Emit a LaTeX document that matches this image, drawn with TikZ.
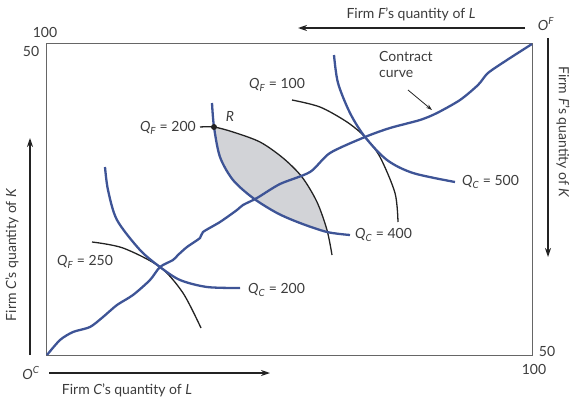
\documentclass[tikz,border=0pt]{standalone}
\usepackage{fontspec}
\setmainfont{Lato}
\usetikzlibrary{arrows.meta}
\definecolor{isoblue}{RGB}{62,84,150}
\definecolor{lensgray}{RGB}{210,211,215}
\definecolor{txtgray}{RGB}{60,60,60}
\definecolor{linegray}{RGB}{35,35,35}
\newcommand\qfirmF{{\itshape Q}\textsubscript{\itshape F}}
\newcommand\qfirmC{{\itshape Q}\textsubscript{\itshape C}}
\tikzset{
  lbl/.style={text=txtgray,font=\fontsize{14}{16}\selectfont,inner sep=1pt},
  bluecurve/.style={isoblue,line width=2.3pt},
  blackcurve/.style={linegray,line width=1.3pt},
  axisarrow/.style={linegray,line width=1.2pt,-{Stealth[length=9pt,width=6pt]}},
  boxline/.style={draw=black!60,line width=1pt}
}
\begin{document}
\begin{tikzpicture}[x=1pt,y=-1pt]
\useasboundingbox (0,0) rectangle (571,399);
% lens shading
\begin{scope}
  \clip plot[smooth] coordinates {(212,103) (214,127) (220,157) (233,180) (253,198) (277,213) (300,223) (327,232) (350,235)} -- (600,235) -- (600,0) -- (212,0) -- cycle;
  \fill[lensgray] plot[smooth] coordinates {(200,127) (214,127) (233,132) (260,142) (283,158) (302,177) (317,202) (327,230) (332,255)} -- (332,400) -- (0,400) -- (0,127) -- cycle;
\end{scope}
% box
\draw[boxline] (46,43.5) rectangle (532,355.5);
% black isoquants (firm F)
\draw[blackcurve] plot[smooth] coordinates {(200,127) (214,127) (233,132) (260,142) (283,158) (302,177) (317,202) (327,230) (332,255)};
\draw[blackcurve] plot[smooth] coordinates {(292,100) (320,107) (347,122) (365,137) (380,157) (395,193) (398,222)};
\draw[blackcurve] plot[smooth] coordinates {(92,242) (123,248) (160,267) (183,293) (201,328)};
% blue isoquants (firm C)
\draw[bluecurve] plot[smooth] coordinates {(212,103) (214,127) (220,157) (233,180) (253,198) (277,213) (300,223) (327,232) (350,235)};
\draw[bluecurve] plot[smooth] coordinates {(105,167) (108,190) (117,220) (140,250) (160,267) (180,280) (207,287) (240,288)};
\draw[bluecurve] plot[smooth] coordinates {(334,55) (338,83) (350,113) (365,137) (387,160) (413,173) (455,182)};
% contract curve
\draw[bluecurve] plot[smooth,tension=0.45] coordinates {(47,355) (60,340) (73,332) (90,327) (103,317) (117,305) (133,295) (150,280) (160,267) (173,260) (178,255) (187,247) (200,238) (203,232) (220,222) (237,210) (243,205) (257,198) (280,184) (310,172) (330,153) (365,137) (390,128) (420,120) (437,113) (460,100) (478,85) (488,73) (507,60) (532,44)};
% point R
\node[circle,fill=linegray,inner sep=0pt,minimum size=6pt] (R) at (214,127) {};
\node[lbl,font=\fontsize{14}{16}\selectfont\itshape] (Rlbl) at (230,116) {R};
% curve labels
\node[lbl,anchor=east] (lQF200) at (197,128) {\qfirmF\ = 200};
\node[lbl] (lQF100) at (277,85) {\qfirmF\ = 100};
\node[lbl] (lQF250) at (85,262) {\qfirmF\ = 250};
\node[lbl,anchor=west] (lQC500) at (461,182) {\qfirmC\ = 500};
\node[lbl,anchor=west] (lQC400) at (354,235) {\qfirmC\ = 400};
\node[lbl,anchor=west] (lQC200) at (247,290) {\qfirmC\ = 200};
\node[lbl,anchor=north west,align=left,inner sep=0pt] (lcc) at (379,51) {Contract\\curve};
\coordinate (ccA) at (408,90);
\coordinate (ccB) at (432,110);
\draw[linegray,line width=0.8pt,-{Stealth[length=6pt,width=4pt]}] (ccA) -- (ccB);
% corner labels
\node[lbl] (n100tl) at (45,32) {100};
\node[lbl] (n50tl) at (31,51) {50};
\node[lbl] (n50br) at (547,351) {50};
\node[lbl] (n100br) at (534,369) {100};
\node[lbl] (OF) at (546,24) {{\itshape O}\textsuperscript{\itshape F}};
\node[lbl] (OC) at (31,373) {{\itshape O}\textsuperscript{\itshape C}};
% axis arrows
\coordinate (tA) at (525,28); \coordinate (tB) at (298,28);
\coordinate (rA) at (548,38); \coordinate (rB) at (548,257);
\coordinate (lA) at (30,355); \coordinate (lB) at (30,138);
\coordinate (bA) at (49,373); \coordinate (bB) at (270,373);
\draw[axisarrow] (tA) -- (tB);
\draw[axisarrow] (rA) -- (rB);
\draw[axisarrow] (lA) -- (lB);
\draw[axisarrow] (bA) -- (bB);
\node[lbl] (ttl) at (411,14) {Firm {\itshape F}’s quantity of {\itshape L}};
\node[lbl] (btl) at (127,390) {Firm {\itshape C}’s quantity of {\itshape L}};
\node[lbl,rotate=90] (ltl) at (12,255) {Firm {\itshape C}’s quantity of {\itshape K}};
\node[lbl,rotate=-90] (rtl) at (563,132) {Firm {\itshape F}’s quantity of {\itshape K}};
\end{tikzpicture}
\end{document}
